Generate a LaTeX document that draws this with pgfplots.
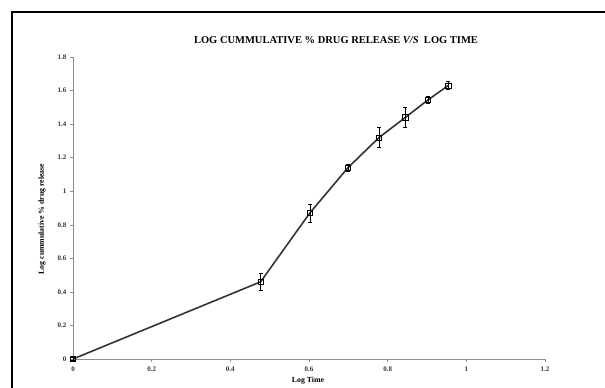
\documentclass[border=0pt]{standalone}
\usepackage{fontspec}
\setmainfont{Liberation Serif}
\usepackage{pgfplots}
\pgfplotsset{compat=1.18}
\pgfplotstableread{
x y e
0 0 0.01
0.477 0.46 0.05
0.602 0.87 0.055
0.699 1.14 0.02
0.778 1.32 0.06
0.845 1.44 0.06
0.903 1.545 0.02
0.954 1.63 0.025
}\drug
\begin{document}
\begin{tikzpicture}[x=1pt,y=1pt]
\path[use as bounding box] (0,0) rectangle (605,388);
\fill[white] (0,0) rectangle (605,388);
\draw[line width=2pt] (12,-20) -- (12,376) -- (630,376);
\begin{axis}[
  at={(73pt,29pt)}, anchor=south west,
  scale only axis, width=472pt, height=302pt,
  xmin=0, xmax=1.2, ymin=0, ymax=1.8,
  axis x line*=bottom, axis y line*=left,
  axis line style={black!45, line width=0.5pt},
  xtick={0,0.2,0.4,0.6,0.8,1,1.2},
  xticklabels={0,0.2,0.4,0.6,0.8,1,1.2},
  ytick={0,0.2,0.4,0.6,0.8,1,1.2,1.4,1.6,1.8},
  yticklabels={0,0.2,0.4,0.6,0.8,1,1.2,1.4,1.6,1.8},
  tick align=outside, major tick length=3pt,
  tick style={black!45, line width=0.5pt},
  tick label style={font=\fontsize{7}{8}\selectfont\bfseries, black!80},
  xticklabel style={yshift=-1pt},
  /pgf/number format/assume math mode=true,
  clip=false,
]
\addplot[color=black!80, line width=1.6pt,
  mark=square, mark size=2.6pt,
  mark options={fill=white, draw=black, line width=0.6pt},
  error bars/.cd, y dir=both, y explicit,
  error bar style={black, line width=0.5pt},
  error mark options={rotate=90, mark size=2pt, black, line width=0.5pt}]
  table[x=x, y=y, y error=e] {\drug};
\end{axis}
\node[font=\fontsize{10.5}{12}\selectfont\bfseries] at (336,348) {LOG CUMMULATIVE \% DRUG RELEASE \textit{V/S} \ LOG TIME};
\node[font=\fontsize{7.8}{9}\selectfont\bfseries, rotate=90] at (42,169) {Log cummulative \% drug release};
\node[font=\fontsize{7.8}{9}\selectfont\bfseries] at (308,7) {Log Time};
\end{tikzpicture}
\end{document}
